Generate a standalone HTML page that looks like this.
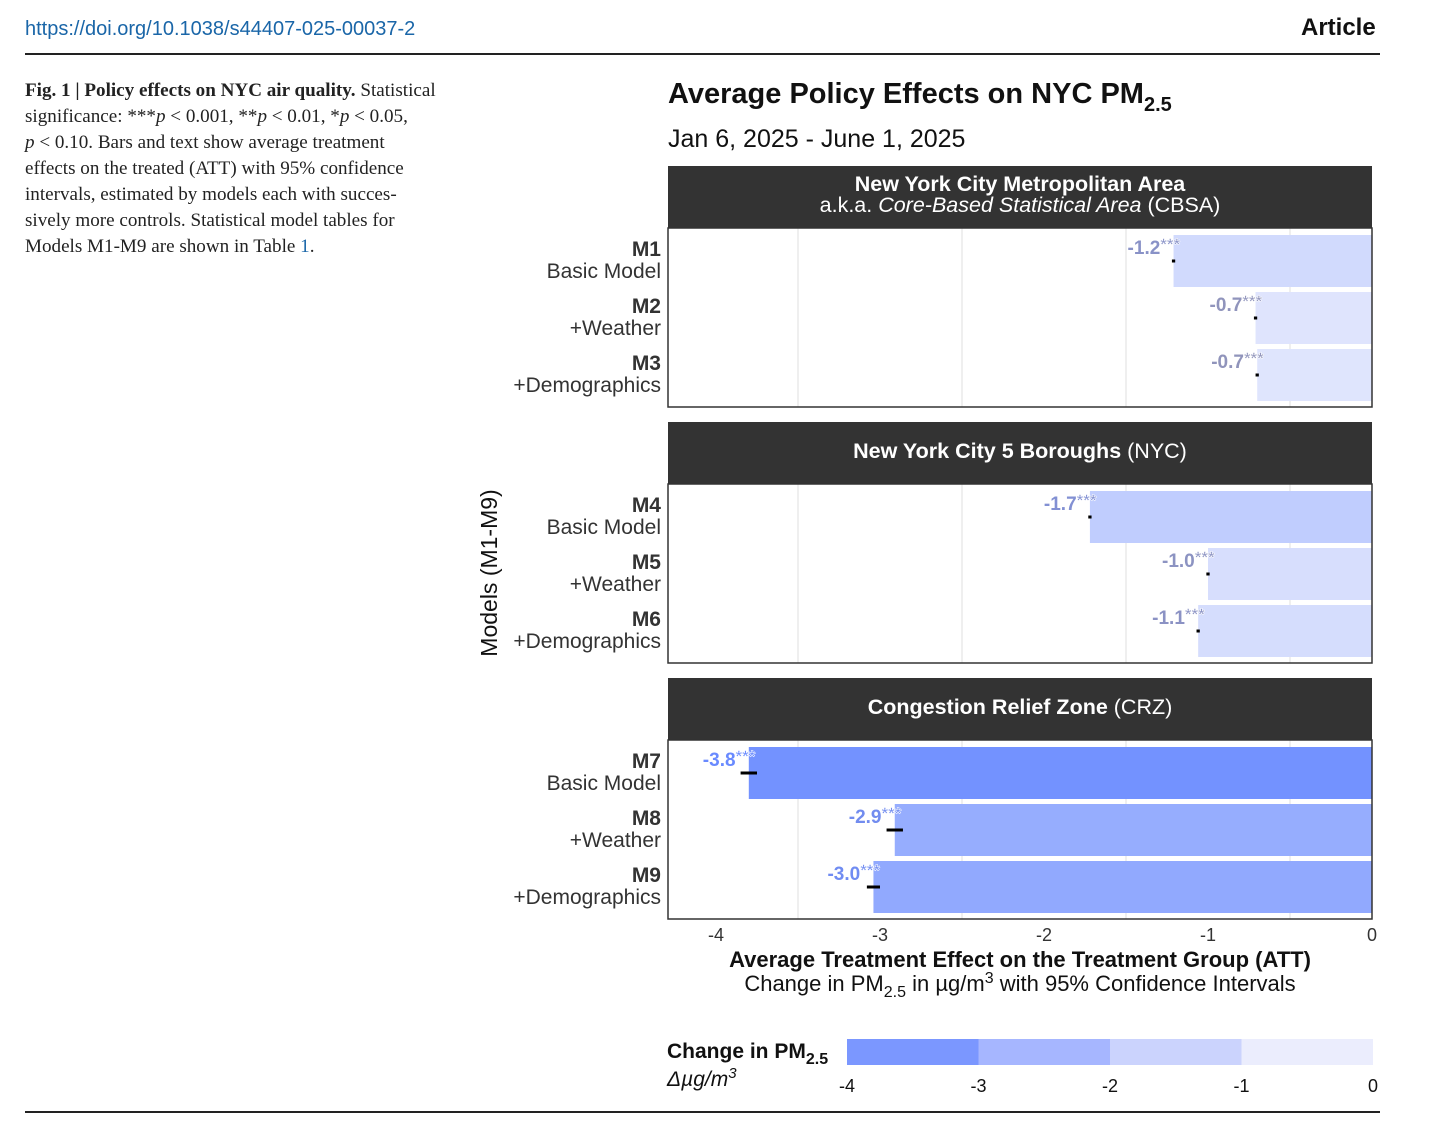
<!DOCTYPE html>
<html><head><meta charset="utf-8">
<style>
body{margin:0;background:#fff;width:1456px;height:1143px;overflow:hidden;position:relative;font-family:"Liberation Sans",sans-serif}
.cap{position:absolute;left:25px;top:78px;width:440px;font-family:"Liberation Serif",serif;font-size:19.1px;line-height:26px;color:#222;white-space:nowrap}
</style></head><body>
<div style="position:absolute;left:25px;top:18px;font-size:20px;color:#1a66a8">https://doi.org/10.1038/s44407-025-00037-2</div>
<div style="position:absolute;left:1301px;top:14px;font-size:24px;font-weight:bold;color:#111">Article</div>
<div style="position:absolute;left:25px;top:53px;width:1355px;height:2px;background:#222"></div>
<div style="position:absolute;left:25px;top:1111px;width:1355px;height:2px;background:#222"></div>
<div class="cap"><b>Fig. 1 | Policy effects on NYC air quality.</b> Statistical<br>significance: ***<i>p</i> &lt; 0.001, **<i>p</i> &lt; 0.01, *<i>p</i> &lt; 0.05,<br><i>p</i> &lt; 0.10. Bars and text show average treatment<br>effects on the treated (ATT) with 95% confidence<br>intervals, estimated by models each with succes-<br>sively more controls. Statistical model tables for<br>Models M1-M9 are shown in Table <span style="color:#1a66a8">1</span>.</div>
<svg id="chart" width="1456" height="1143" style="position:absolute;left:0;top:0" font-family="Liberation Sans, sans-serif"></svg>
<script>
const models=["M1","M2","M3","M4","M5","M6","M7","M8","M9"];
const descs=["Basic Model","+Weather","+Demographics","Basic Model","+Weather","+Demographics","Basic Model","+Weather","+Demographics"];
const values=[-1.21,-0.71,-0.70,-1.72,-1.00,-1.06,-3.80,-2.91,-3.04];
const labels=["-1.2","-0.7","-0.7","-1.7","-1.0","-1.1","-3.8","-2.9","-3.0"];
const ciHalf=[0.01,0.01,0.01,0.01,0.01,0.01,0.05,0.05,0.04];
const xTicks=[-4,-3,-2,-1,0];
const legendBins=[-4,-3,-2,-1,0];
const ns="http://www.w3.org/2000/svg";
const svg=document.getElementById('chart');
function mk(t,a,p){const e=document.createElementNS(ns,t);for(const k in a)e.setAttribute(k,a[k]);(p||svg).appendChild(e);return e;}
const x0=1372,pxu=164;
const X=v=>x0+v*pxu;
function col(v){let t=Math.pow(Math.min(1,-v/4),1.25);const a=[238,240,253],b=[107,140,255];return `rgb(${a.map((c,i)=>Math.round(c+(b[i]-c)*t)).join(',')})`;}
function tcol(v){let t=Math.min(1,Math.max(0,(-v-0.6)/3));const a=[145,148,185],b=[105,138,255];return `rgb(${a.map((c,i)=>Math.round(c+(b[i]-c)*t)).join(',')})`;}
let tt=mk('text',{x:668,y:103,'font-size':29,'font-weight':'bold',fill:'#111'});tt.innerHTML='Average Policy Effects on NYC PM<tspan font-size="20" dy="8">2.5</tspan>';


let st=mk('text',{x:668,y:147,'font-size':25,fill:'#111'});st.textContent='Jan 6, 2025 - June 1, 2025';


const panels=[{top:166,t1:'New York City Metropolitan Area',t2:'a.k.a. <tspan font-style="italic">Core-Based Statistical Area</tspan> (CBSA)'},
{top:422,t1:'<tspan font-weight="bold">New York City 5 Boroughs</tspan> (NYC)'},
{top:678,t1:'<tspan font-weight="bold">Congestion Relief Zone</tspan> (CRZ)'}];
panels.forEach((p,pi)=>{
 const g=mk('g',{});
 
 
 let h=mk('rect',{x:668,y:p.top,width:704,height:62,fill:'#333'},g);
 
 
 if(p.t2){let a=mk('text',{x:1020,y:p.top+25,'text-anchor':'middle','font-size':21.5,'font-weight':'bold',fill:'#fff'},g);a.innerHTML=p.t1;
  let b=mk('text',{x:1020,y:p.top+46,'text-anchor':'middle','font-size':21.5,fill:'#fff'},g);b.innerHTML=p.t2;}
 else{let a=mk('text',{x:1020,y:p.top+36,'text-anchor':'middle','font-size':21.5,fill:'#fff'},g);a.innerHTML=p.t1;}
 const bt=p.top+62;
 for(let v=-3.5;v<0;v+=1){mk('line',{x1:X(v),x2:X(v),y1:bt,y2:bt+179,stroke:'#e4e4e4','stroke-width':1.2},g);}
 for(let r=0;r<3;r++){
  const i=pi*3+r,v=values[i],cy=bt+33+r*57;
  let bar=mk('rect',{x:X(v),y:cy-26,width:X(0)-X(v),height:52,fill:col(v)},g);
  
  
  const ci=ciHalf[i];
  mk('line',{x1:X(v-ci),x2:X(v+ci),y1:cy,y2:cy,stroke:'#000','stroke-width':3},g);
  let lt=mk('text',{x:X(v)-46,y:cy-7,'font-size':19,'font-weight':'bold',fill:tcol(v)},g);
  lt.innerHTML=labels[i]+'<tspan font-size="17" fill="'+tcol(v)+'" stroke="#fff" stroke-width="0.5" dy="-4">***</tspan>';
  
  
  let m=mk('text',{x:661,y:cy-5,'text-anchor':'end','font-size':21,'font-weight':'bold',fill:'#333'},g);m.textContent=models[i];
  let d=mk('text',{x:661,y:cy+17,'text-anchor':'end','font-size':21,fill:'#333'},g);d.textContent=descs[i];
 }
 mk('rect',{x:668,y:bt,width:704,height:179,fill:'none',stroke:'#333','stroke-width':1.5},g);
});
xTicks.forEach(v=>{let t=mk('text',{x:X(v),y:941,'text-anchor':'middle','font-size':18,fill:'#333'});t.textContent=v;
 
 });
let xa=mk('text',{x:1020,y:967,'text-anchor':'middle','font-size':22,'font-weight':'bold',fill:'#111'});xa.textContent='Average Treatment Effect on the Treatment Group (ATT)';


let xb=mk('text',{x:1020,y:991,'text-anchor':'middle','font-size':22,fill:'#111'});xb.innerHTML='Change in PM<tspan font-size="16" dy="6">2.5</tspan><tspan dy="-6"> in µg/m</tspan><tspan font-size="16" dy="-8">3</tspan><tspan dy="8"> with 95% Confidence Intervals</tspan>';


let ya=mk('text',{x:497,y:573,'text-anchor':'middle','font-size':23,fill:'#111',transform:'rotate(-90 497 573)'});ya.textContent='Models (M1-M9)';


let lg=mk('text',{x:667,y:1058,'font-size':21,'font-weight':'bold',fill:'#111'});lg.innerHTML='Change in PM<tspan font-size="16" dy="6">2.5</tspan>';


let lu=mk('text',{x:667,y:1086,'font-size':21,'font-style':'italic',fill:'#111'});lu.innerHTML='Δµg/m<tspan font-size="15" dy="-8">3</tspan>';
const LX=v=>1373+v*131.5;
const binCols=['#7b97ff','#a6b6ff','#cbd3fd','#ebedfd'];
for(let k=0;k<legendBins.length-1;k++){
 let r=mk('rect',{x:LX(legendBins[k]),y:1039,width:LX(legendBins[k+1])-LX(legendBins[k]),height:26,fill:binCols[k]});
 
 
}
legendBins.forEach(v=>{let t=mk('text',{x:LX(v),y:1092,'text-anchor':'middle','font-size':18,fill:'#111'});t.textContent=v;
 
 });
</script>
</body></html>
